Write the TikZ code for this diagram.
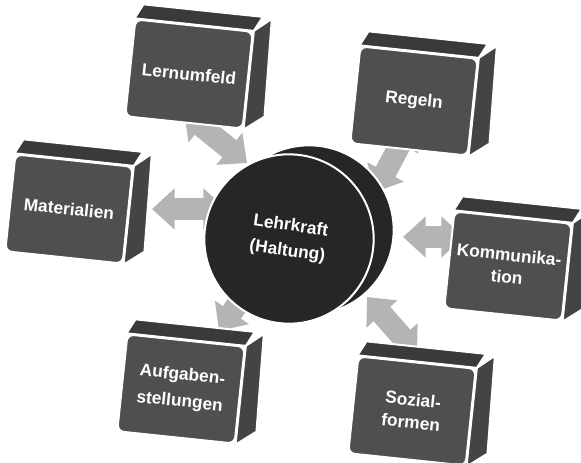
\documentclass[tikz,border=0pt]{standalone}
\usepackage{fontspec}
\setmainfont{Liberation Sans}
\usepackage{tikz}
\usetikzlibrary{arrows.meta,calc}

\definecolor{frontgray}{RGB}{79,79,79}
\definecolor{topgray}{RGB}{58,58,58}
\definecolor{sidegray}{RGB}{68,68,68}
\definecolor{diskgray}{RGB}{38,38,38}
\definecolor{arrowgray}{RGB}{180,180,180}

\tikzset{
  frontface/.style={draw=white, line width=1.5pt, fill=frontgray, rounded corners=5pt,
    minimum width=88.5pt, minimum height=73pt, rotate=-6, inner sep=0pt,
    text=white, align=center, font=\fontsize{13}{17}\selectfont\bfseries},
  topface/.style={fill=topgray, draw=white, line width=1.5pt, line join=round},
  sideface/.style={fill=sidegray, draw=white, line width=1.5pt, line join=round},
  disk/.style={circle, fill=diskgray, draw=white, line width=1.5pt, minimum size=127pt, inner sep=0pt},
  conn/.style={arrowgray, line width=16.5pt,
    {Triangle[width=30pt,length=17pt]}-{Triangle[width=30pt,length=17pt]}}
}

\begin{document}
\begin{tikzpicture}[x=0.75pt,y=0.75pt,yscale=-1,xscale=1]
\path[use as bounding box] (0,0) rectangle (581,463);

%Block Arrows
\coordinate (lern-end) at (184,112);   \coordinate (lehr-lern) at (247,163);
\coordinate (regeln-end) at (411,124); \coordinate (lehr-regeln) at (375,192);
\coordinate (mat-end) at (152,209);    \coordinate (lehr-mat) at (226,209);
\coordinate (komm-end) at (464,237);   \coordinate (lehr-komm) at (403,237);
\coordinate (sozial-end) at (417,354); \coordinate (lehr-sozial) at (367,297);
\coordinate (aufg-end) at (219,331);   \coordinate (lehr-aufg) at (253,282);
\foreach \b in {lern,regeln,mat,komm,sozial,aufg}
  \draw[conn] (\b-end) -- (lehr-\b);

%Shape: Cube fronts
\node[frontface] (lern) at (189,74) {Lernumfeld};
\node[frontface] (regeln) at (414,101) {Regeln};
\node[frontface] (mat) at (69,209) {Materialien};
\node[frontface] (komm) at (508,266) {Kommunika-\\tion};
\node[frontface] (sozial) at (412,411) {Sozial-\\formen};
\node[frontface, font=\fontsize{13}{20}\selectfont\bfseries] (aufg) at (181,389) {Aufgaben-\\stellungen};

%Shape: Cube top and side
\foreach \b in {lern,regeln,mat,komm,sozial,aufg}{
  \draw[topface] (\b.north west) -- (\b.north east) -- ($(\b.north east)+(9,-14)$) -- ($(\b.north west)+(9,-14)$) -- cycle;
  \draw[sideface] (\b.north east) -- ($(\b.north east)+(18,-12)$) -- ($(\b.south east)+(21,-13)$) -- (\b.south east) -- cycle;
}

%Shape: Disk
\node[disk] (lehr-back) at (309,230) {};
\node[disk, rotate=-8, text=white, align=center, font=\fontsize{13}{19}\selectfont\bfseries] (lehr) at (289,239) {Lehrkraft\\(Haltung)};

\end{tikzpicture}
\end{document}
